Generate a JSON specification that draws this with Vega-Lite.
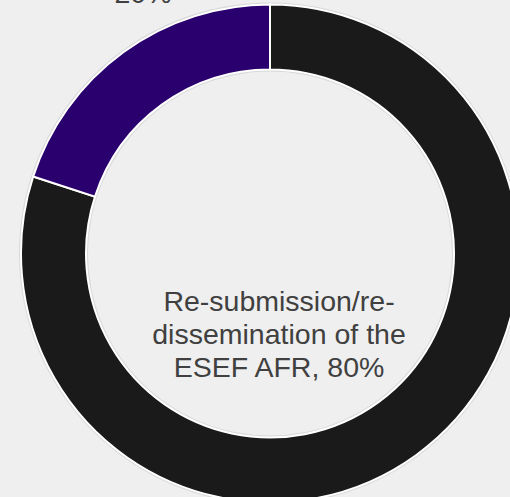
{
  "$schema": "https://vega.github.io/schema/vega-lite/v6.json",
  "width": 480,
  "height": 487,
  "autosize": {"type": "none"},
  "padding": {"left": 30, "top": 10, "right": 0, "bottom": 0},
  "background": "#efefef",
  "view": {"stroke": null},
  "data": {
    "values": [
      {"category": "Re-submission/re-dissemination of the ESEF AFR", "value": 80, "label": "Re-submission/re-\ndissemination of the\nESEF AFR, 80%", "pos": "inside"},
      {"category": "Other", "value": 20, "label": "20%", "pos": "outside"}
    ]
  },
  "layer": [
    {
      "mark": {"type": "arc", "radius": 251, "radius2": 182, "fill": "#d9d9d9", "stroke": null},
      "encoding": {
        "theta": {"field": "value", "type": "quantitative", "stack": true, "aggregate": "sum"}
      }
    },
    {
      "mark": {"type": "arc", "outerRadius": 249, "innerRadius": 184, "stroke": "#ffffff", "strokeWidth": 2},
      "encoding": {
        "theta": {"field": "value", "type": "quantitative", "stack": true},
        "order": {"field": "value", "type": "quantitative", "sort": "descending"},
        "color": {
          "field": "category",
          "type": "nominal",
          "scale": {"domain": ["Re-submission/re-dissemination of the ESEF AFR", "Other"], "range": ["#1a1a1a", "#2a006e"]},
          "legend": null
        }
      }
    },
    {
      "transform": [{"filter": "datum.pos === 'inside'"}],
      "mark": {"type": "text", "align": "center", "baseline": "middle", "lineBreak": "\n", "lineHeight": 33, "fontSize": 28.5, "font": "Liberation Sans", "color": "#404040", "dx": 9, "dy": 48},
      "encoding": {"text": {"field": "label", "type": "nominal"}}
    },
    {
      "transform": [{"filter": "datum.pos === 'outside'"}],
      "mark": {"type": "text", "align": "center", "baseline": "alphabetic", "fontSize": 28.5, "font": "Liberation Sans", "color": "#404040", "dx": -127, "dy": -250.5},
      "encoding": {"text": {"field": "label", "type": "nominal"}}
    }
  ]
}
